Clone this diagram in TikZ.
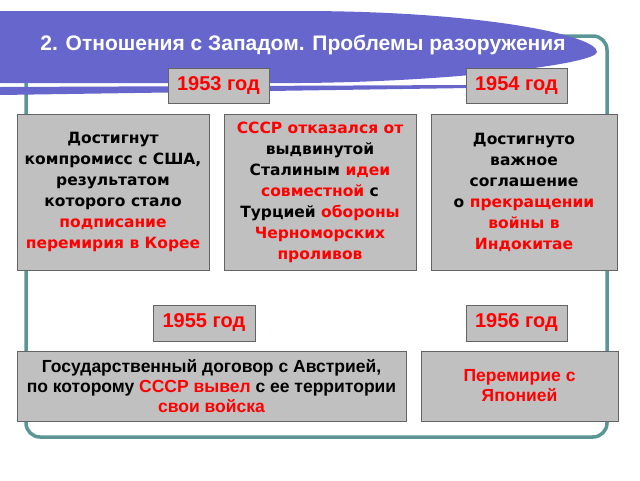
\documentclass[tikz,border=0pt]{standalone}
\usepackage{fontspec}
\setmainfont{Liberation Sans}
\newfontfamily\dvsans{DejaVu Sans}
\definecolor{bannerblue}{RGB}{102,102,204}
\definecolor{frameteal}{RGB}{90,150,150}
\definecolor{boxgray}{RGB}{192,192,192}
\definecolor{boxline}{RGB}{100,100,100}
\definecolor{hired}{RGB}{255,0,0}

\begin{document}
\begin{tikzpicture}[x=1pt,y=-1pt,
  yearbox/.style={draw=boxline, fill=boxgray, minimum width=101pt, minimum height=35pt,
    inner sep=0pt, text=hired, font=\fontsize{20}{22}\selectfont\bfseries},
  infobox/.style={draw=boxline, fill=boxgray, minimum height=156pt, inner sep=0pt,
    align=center, font=\dvsans\fontsize{15.5}{21}\selectfont\bfseries},
  lowbox/.style={draw=boxline, fill=boxgray, minimum height=70pt, inner sep=0pt,
    align=center, font=\fontsize{17.5}{20}\selectfont\bfseries}]
\useasboundingbox (0,0) rectangle (640,480);
% frame
\draw[frameteal, line width=3.5pt, rounded corners=14pt] (26,36) rectangle (607,437);
% banner
\fill[bannerblue] (0,11) -- (300,11) .. controls (480,11) and (597,35) .. (597,52)
  .. controls (597,64) and (450,82) .. (300,83) -- (0,83) -- cycle;
\fill[bannerblue] (0,87) -- (470,85) -- (470,88) -- (0,95) -- cycle;
\node[text=white, font=\fontsize{21}{24}\selectfont\bfseries] (title) at (303,45)
  {2. Отношения с Западом. Проблемы разоружения};

% years
\node[yearbox] (y53) at (218.5,85.5) {1953 год};
\node[yearbox] (y54) at (516.5,85.5) {1954 год};
\node[yearbox, minimum width=102pt, minimum height=36pt] (y55) at (204,323) {1955 год};
\node[yearbox, minimum height=36pt] (y56) at (516.5,323) {1956 год};

% events
\node[infobox, minimum width=192pt] (korea) at (113,192)
  {Достигнут\\компромисс с США,\\результатом\\которого стало\\
   \textcolor{hired}{подписание}\\\textcolor{hired}{перемирия в Корее}};
\node[infobox, minimum width=192pt] (turkey) at (320,192)
  {\textcolor{hired}{СССР отказался от}\\выдвинутой\\Сталиным \textcolor{hired}{идеи}\\
   \textcolor{hired}{совместной} с\\Турцией \textcolor{hired}{обороны}\\
   \textcolor{hired}{Черноморских}\\\textcolor{hired}{проливов}};
\node[infobox, minimum width=186pt] (indochina) at (524,192)
  {Достигнуто\\важное\\соглашение\\о \textcolor{hired}{прекращении}\\
   \textcolor{hired}{войны в}\\\textcolor{hired}{Индокитае}};
\node[lowbox, minimum width=389pt] (austria) at (211.5,386)
  {Государственный договор с Австрией,\\
   по которому \textcolor{hired}{СССР вывел} с ее территории\\
   \textcolor{hired}{свои войска}};
\node[lowbox, minimum width=197pt, text=hired] (japan) at (519.5,386)
  {Перемирие с\\Японией};
\end{tikzpicture}
\end{document}
